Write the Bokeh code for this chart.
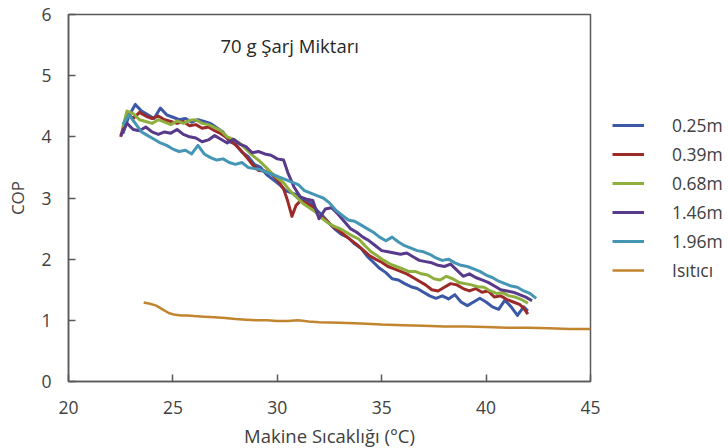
from bokeh.plotting import figure
from bokeh.models import Legend, LegendItem, Label, FixedTicker
from bokeh.embed import file_html
from bokeh.resources import INLINE

# ---------------- data ----------------
t_025 = [22.6, 22.9, 23.2, 23.5, 23.8, 24.1, 24.4, 24.7, 25.0, 25.3, 25.6, 25.9, 26.2, 26.5, 26.8,
         27.1, 27.4, 27.7, 28.0, 28.3, 28.6, 28.9, 29.2, 29.5, 29.8, 30.1, 30.4, 30.7, 31.0, 31.3,
         31.6, 31.9, 32.2, 32.5, 32.8, 33.1, 33.4, 33.7, 34.0, 34.3, 34.6, 34.9, 35.2, 35.5, 35.8,
         36.1, 36.4, 36.7, 37.0, 37.3, 37.6, 37.9, 38.2, 38.5, 38.8, 39.1, 39.4, 39.7, 40.0, 40.3,
         40.6, 40.9, 41.2, 41.5, 41.8, 42.0]
cop_025 = [4.05, 4.35, 4.53, 4.42, 4.36, 4.30, 4.47, 4.36, 4.32, 4.28, 4.30, 4.24, 4.28, 4.25, 4.22,
           4.15, 4.08, 3.92, 3.88, 3.75, 3.68, 3.55, 3.50, 3.38, 3.30, 3.22, 3.12, 3.08, 3.05, 2.95,
           2.92, 2.80, 2.70, 2.58, 2.48, 2.40, 2.35, 2.25, 2.18, 2.05, 1.95, 1.85, 1.78, 1.68, 1.66,
           1.60, 1.55, 1.52, 1.46, 1.40, 1.36, 1.40, 1.35, 1.42, 1.30, 1.24, 1.30, 1.36, 1.30, 1.22,
           1.18, 1.33, 1.22, 1.08, 1.22, 1.15]

t_039 = [22.5, 22.8, 23.1, 23.4, 23.7, 24.0, 24.3, 24.6, 24.9, 25.2, 25.5, 25.8, 26.1, 26.4, 26.7,
         27.0, 27.3, 27.6, 27.9, 28.2, 28.5, 28.8, 29.1, 29.4, 29.7, 30.0, 30.3, 30.5, 30.7, 30.9,
         31.1, 31.4, 31.7, 32.0, 32.3, 32.6, 32.9, 33.2, 33.5, 33.8, 34.1, 34.4, 34.7, 35.0, 35.3,
         35.6, 35.9, 36.2, 36.5, 36.8, 37.1, 37.4, 37.7, 38.0, 38.3, 38.6, 38.9, 39.2, 39.5, 39.8,
         40.1, 40.4, 40.7, 41.0, 41.3, 41.6, 41.8, 42.0]
cop_039 = [4.00, 4.38, 4.30, 4.40, 4.34, 4.30, 4.34, 4.28, 4.25, 4.22, 4.25, 4.18, 4.20, 4.14, 4.16,
           4.10, 4.05, 3.98, 3.90, 3.80, 3.68, 3.55, 3.45, 3.44, 3.40, 3.30, 3.15, 2.95, 2.70, 2.88,
           2.95, 2.92, 2.85, 2.72, 2.65, 2.55, 2.48, 2.40, 2.32, 2.24, 2.15, 2.06, 2.00, 1.95, 1.88,
           1.84, 1.80, 1.76, 1.70, 1.64, 1.58, 1.50, 1.48, 1.54, 1.60, 1.58, 1.52, 1.48, 1.52, 1.46,
           1.48, 1.38, 1.40, 1.34, 1.30, 1.26, 1.20, 1.10]

t_068 = [22.6, 22.8, 23.1, 23.4, 23.7, 24.0, 24.3, 24.6, 24.9, 25.2, 25.5, 25.8, 26.1, 26.4, 26.7,
         27.0, 27.3, 27.6, 27.9, 28.2, 28.5, 28.8, 29.1, 29.4, 29.7, 30.0, 30.3, 30.6, 30.9, 31.2,
         31.5, 31.8, 32.1, 32.4, 32.7, 33.0, 33.3, 33.6, 33.9, 34.2, 34.5, 34.8, 35.1, 35.4, 35.7,
         36.0, 36.3, 36.6, 36.9, 37.2, 37.5, 37.8, 38.1, 38.4, 38.7, 39.0, 39.3, 39.6, 39.9, 40.2,
         40.5, 40.8, 41.1, 41.4, 41.7, 42.0]
cop_068 = [4.15, 4.42, 4.38, 4.28, 4.25, 4.22, 4.28, 4.24, 4.20, 4.26, 4.22, 4.27, 4.28, 4.22, 4.20,
           4.15, 4.10, 4.00, 3.96, 3.90, 3.80, 3.70, 3.62, 3.52, 3.42, 3.33, 3.25, 3.12, 3.02, 2.92,
           2.85, 2.78, 2.68, 2.60, 2.54, 2.50, 2.44, 2.38, 2.33, 2.22, 2.12, 2.05, 1.98, 1.92, 1.88,
           1.84, 1.80, 1.80, 1.76, 1.74, 1.68, 1.66, 1.72, 1.68, 1.62, 1.60, 1.58, 1.55, 1.54, 1.48,
           1.44, 1.45, 1.40, 1.38, 1.34, 1.28]

t_146 = [22.5, 22.8, 23.1, 23.4, 23.7, 24.0, 24.3, 24.6, 24.9, 25.2, 25.5, 25.8, 26.1, 26.4, 26.7,
         27.0, 27.3, 27.6, 27.9, 28.2, 28.5, 28.8, 29.1, 29.4, 29.7, 30.0, 30.3, 30.5, 30.8, 31.1,
         31.4, 31.7, 32.0, 32.3, 32.6, 32.9, 33.2, 33.5, 33.8, 34.1, 34.4, 34.7, 35.0, 35.3, 35.6,
         35.9, 36.2, 36.5, 36.8, 37.1, 37.4, 37.7, 38.0, 38.3, 38.6, 38.9, 39.2, 39.5, 39.8, 40.1,
         40.4, 40.7, 41.0, 41.3, 41.6, 41.9, 42.2]
cop_146 = [4.02, 4.22, 4.12, 4.10, 4.16, 4.08, 4.04, 4.08, 4.06, 4.12, 4.04, 4.00, 3.98, 3.92, 3.95,
           4.02, 3.96, 3.90, 3.96, 3.88, 3.84, 3.74, 3.76, 3.72, 3.70, 3.64, 3.62, 3.42, 3.18, 3.02,
           2.98, 2.96, 2.66, 2.82, 2.84, 2.74, 2.62, 2.50, 2.44, 2.36, 2.30, 2.22, 2.14, 2.12, 2.10,
           2.08, 2.10, 2.04, 1.98, 1.96, 1.94, 1.90, 1.88, 1.92, 1.82, 1.72, 1.76, 1.70, 1.66, 1.62,
           1.56, 1.50, 1.48, 1.46, 1.42, 1.38, 1.32]

t_196 = [22.6, 22.9, 23.2, 23.5, 23.8, 24.1, 24.4, 24.7, 25.0, 25.3, 25.6, 25.9, 26.2, 26.5, 26.8,
         27.1, 27.4, 27.7, 28.0, 28.3, 28.6, 28.9, 29.2, 29.5, 29.8, 30.1, 30.4, 30.7, 31.0, 31.3,
         31.6, 31.9, 32.2, 32.5, 32.8, 33.1, 33.4, 33.7, 34.0, 34.3, 34.6, 34.9, 35.2, 35.5, 35.8,
         36.1, 36.4, 36.7, 37.0, 37.3, 37.6, 37.9, 38.2, 38.5, 38.8, 39.1, 39.4, 39.7, 40.0, 40.3,
         40.6, 40.9, 41.2, 41.5, 41.8, 42.1, 42.4]
cop_196 = [4.20, 4.36, 4.22, 4.08, 4.02, 3.96, 3.90, 3.86, 3.80, 3.76, 3.78, 3.72, 3.86, 3.72, 3.66,
           3.62, 3.64, 3.58, 3.55, 3.58, 3.50, 3.48, 3.46, 3.42, 3.38, 3.34, 3.30, 3.26, 3.22, 3.12,
           3.08, 3.04, 3.00, 2.92, 2.80, 2.72, 2.64, 2.62, 2.56, 2.50, 2.44, 2.36, 2.30, 2.36, 2.28,
           2.22, 2.18, 2.14, 2.12, 2.08, 2.02, 1.98, 2.00, 1.94, 1.90, 1.88, 1.84, 1.80, 1.74, 1.70,
           1.64, 1.60, 1.56, 1.54, 1.48, 1.44, 1.36]

t_heat = [23.6, 23.9, 24.2, 24.5, 24.8, 25.1, 25.4, 25.7, 26.0, 26.5, 27.0, 27.5, 28.0, 28.5, 29.0,
          29.5, 30.0, 30.5, 31.0, 31.5, 32.0, 33.0, 34.0, 35.0, 36.0, 37.0, 38.0, 39.0, 40.0, 41.0,
          42.0, 43.0, 44.0, 45.0]
cop_heat = [1.29, 1.27, 1.24, 1.18, 1.12, 1.09, 1.08, 1.08, 1.07, 1.06, 1.05, 1.04, 1.02, 1.01, 1.00,
            1.00, 0.99, 0.99, 1.00, 0.98, 0.97, 0.96, 0.95, 0.93, 0.92, 0.91, 0.90, 0.90, 0.89, 0.88,
            0.88, 0.87, 0.86, 0.86]

series_names = ["0.25m", "0.39m", "0.68m", "1.46m", "1.96m", "Isıtıcı"]
series_x = [t_025, t_039, t_068, t_146, t_196, t_heat]
series_y = [cop_025, cop_039, cop_068, cop_146, cop_196, cop_heat]
series_colors = ["#3B58A6", "#9C2A28", "#8EAF3E", "#583A8A", "#4595B5", "#C2852F"]

x_ticks = [20, 25, 30, 35, 40, 45]
y_ticks = [0, 1, 2, 3, 4, 5, 6]
title_text = "70 g Şarj Miktarı"
x_title = "Makine Sıcaklığı (°C)"
y_title = "COP"

FONT = "Open Sans"
TXT = "#404040"
AX = "#595959"

p = figure(frame_width=522, frame_height=367, x_range=(20, 45), y_range=(0, 6),
           output_backend="svg", toolbar_location=None,
           min_border_left=68, min_border_right=138, min_border_top=14, min_border_bottom=66)
p.background_fill_color = "white"
p.border_fill_color = "white"
p.grid.visible = False
p.outline_line_color = AX
p.outline_line_width = 1.5

renderers = []
for xs, ys, c in zip(series_x, series_y, series_colors):
    lw = 2.5 if c == "#C2852F" else 3
    r = p.line(xs, ys, line_color=c, line_width=lw, line_join="round")
    renderers.append(r)

for ax in (p.xaxis[0], p.yaxis[0]):
    ax.axis_line_color = AX
    ax.axis_line_width = 1.5
    ax.major_tick_line_color = AX
    ax.major_tick_line_width = 1.5
    ax.major_tick_in = 7
    ax.major_tick_out = 0
    ax.minor_tick_line_color = None
    ax.major_label_text_font = FONT
    ax.major_label_text_font_size = "17.5px"
    ax.major_label_text_color = TXT
    ax.axis_label_text_font = FONT
    ax.axis_label_text_font_style = "normal"
    ax.axis_label_text_color = TXT

p.xaxis[0].ticker = FixedTicker(ticks=x_ticks)
p.yaxis[0].ticker = FixedTicker(ticks=y_ticks)
p.xaxis[0].major_label_standoff = 19
p.yaxis[0].major_label_standoff = 17
p.xaxis[0].axis_label = x_title
p.yaxis[0].axis_label = y_title
p.xaxis[0].axis_label_text_font_size = "18.5px"
p.yaxis[0].axis_label_text_font_size = "17px"
p.xaxis[0].axis_label_standoff = 6
p.yaxis[0].axis_label_standoff = 9

p.add_layout(Label(x=27.28, y=5.49, text=title_text, text_font=FONT, text_font_size="18.5px",
                   text_color="#262626", text_baseline="middle", text_align="left"))

items = [LegendItem(label=n, renderers=[r]) for n, r in zip(series_names, renderers)]
legend = Legend(items=items, location=(22, 99), orientation="vertical",
                background_fill_alpha=0, border_line_color=None,
                padding=0, margin=0, spacing=5,
                glyph_width=32, glyph_height=20, label_height=20, label_standoff=28,
                label_text_font=FONT, label_text_font_size="17.5px", label_text_color=TXT)
p.add_layout(legend, "right")

open("out.html", "w").write(file_html(p, INLINE))
